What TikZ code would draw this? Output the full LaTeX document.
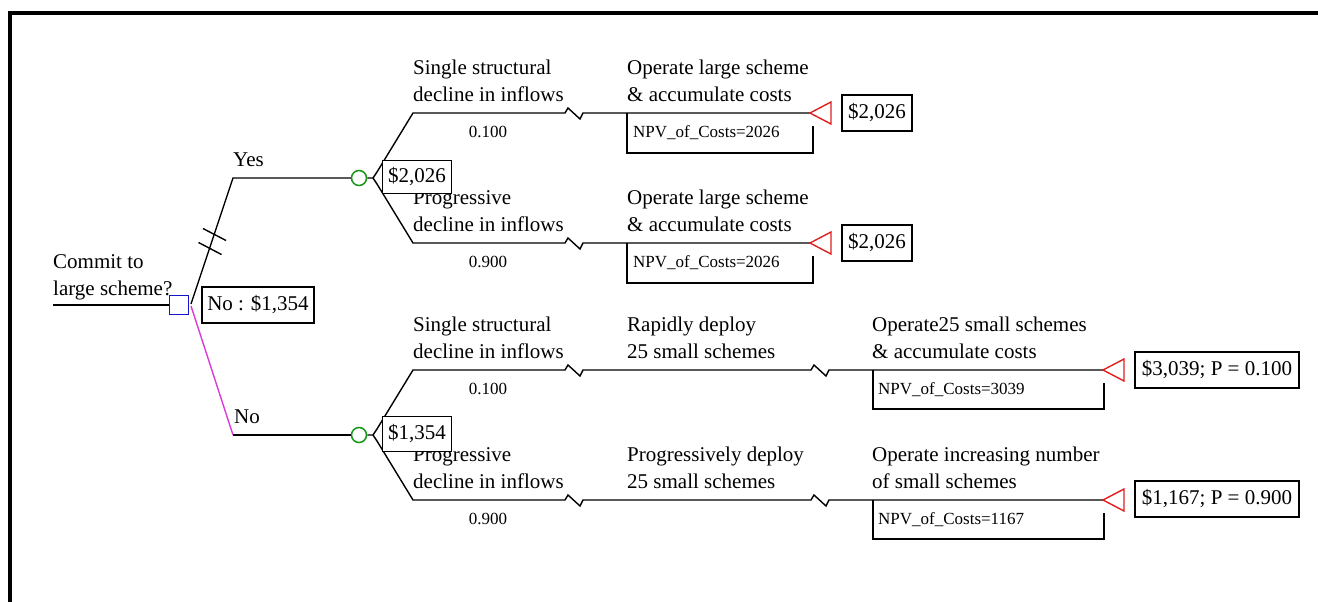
\documentclass[tikz,border=0pt]{standalone}
\usepackage{fontspec}
\setmainfont{Liberation Serif}
\usetikzlibrary{calc}
\definecolor{decblue}{RGB}{20,20,200}
\definecolor{chgreen}{RGB}{20,150,20}
\definecolor{termred}{RGB}{225,30,30}
\definecolor{nomag}{RGB}{215,60,215}
\begin{document}
\begin{tikzpicture}[x=1pt,y=-1pt,
  every node/.style={inner sep=0pt},
  br/.style={line width=1.4pt, line join=miter},
  big/.style={font=\fontsize{21}{27}\selectfont},
  sml/.style={font=\fontsize{17}{20}\selectfont},
  lbl/.style={big, anchor=base west, align=left},
  prob/.style={sml, anchor=base},
  npv/.style={sml, anchor=base west},
  valbox/.style={big, draw, line width=1.4pt, fill=white, minimum height=36pt, inner xsep=3pt},
  dec/.style={draw=decblue, line width=1.5pt, minimum size=19pt},
  chn/.style={circle, draw=chgreen, line width=1.5pt, minimum size=15pt},
  term/.style={draw=termred, line width=1.4pt, line join=miter},
]
\useasboundingbox (0,0) rectangle (1318,602);
\draw[line width=3.5pt] (10,604) -- (10,13) -- (1320,13);

% nodes
\node[dec] (d) at (179,305) {};
\node[chn] (cy) at (359,178) {};
\node[chn] (cn) at (359,435) {};

% coordinates
\coordinate (din) at (53,305);
\coordinate (dy) at (191,304);
\coordinate (dn) at (191,306);
\coordinate (ky) at (233,178);
\coordinate (kn) at (233,435);
\coordinate (fy) at (373,178);
\coordinate (fyu) at (377,172);
\coordinate (fyl) at (377,184);
\coordinate (fn) at (373,435);
\coordinate (fnu) at (377,429);
\coordinate (fnl) at (377,441);
\coordinate (u1) at (413,113);
\coordinate (u2) at (413,243);
\coordinate (u3) at (413,370);
\coordinate (u4) at (413,500);
\coordinate (za1) at (565,113);
\coordinate (za2) at (565,243);
\coordinate (za3) at (565,370);
\coordinate (za4) at (565,500);
\coordinate (zb3) at (811,370);
\coordinate (zb4) at (811,500);
\coordinate (t1) at (810,113);
\coordinate (t2) at (810,243);
\coordinate (t3) at (1103,370);
\coordinate (t4) at (1103,500);
\coordinate (n1) at (627,113);
\coordinate (n2) at (627,243);
\coordinate (n3) at (873,370);
\coordinate (n4) at (873,500);
\coordinate (h1) at (214.5,234.5);
\coordinate (h2) at (210,248.5);

% decision branches
\draw[br] (din) -- (d.west);
\draw[br] (dy) -- (ky) -- (cy.west);
\draw[br, draw=nomag] (dn) -- (kn);
\draw[br] (kn) -- (cn.west);
\draw[br] ($(h1)+(-11.5,-6)$) -- ($(h1)+(11.5,6)$);
\draw[br] ($(h2)+(-11.5,-6)$) -- ($(h2)+(11.5,6)$);

% chance branches (Yes)
\draw[br] (cy.east) -- (fy) -- (fyu) -- (u1) -- (za1) -- ++(3,-5) -- ++(12,11) -- ++(3,-6) -- (t1);
\draw[br] (fy) -- (fyl) -- (u2) -- (za2) -- ++(3,-5) -- ++(12,11) -- ++(3,-6) -- (t2);
% chance branches (No)
\draw[br] (cn.east) -- (fn) -- (fnu) -- (u3) -- (za3) -- ++(3,-5) -- ++(12,11) -- ++(3,-6) -- (zb3) -- ++(3,-5) -- ++(12,11) -- ++(3,-6) -- (t3);
\draw[br] (fn) -- (fnl) -- (u4) -- (za4) -- ++(3,-5) -- ++(12,11) -- ++(3,-6) -- (zb4) -- ++(3,-5) -- ++(12,11) -- ++(3,-6) -- (t4);

% terminal triangles
\foreach \t in {t1,t2,t3,t4}{
  \draw[term] (\t) -- ++(21,-11) -- ++(0,22) -- cycle;
}

% NPV brackets
\draw[br] (n1) -- ++(0,40) -- ++(186,0) -- ++(0,-27);
\draw[br] (n2) -- ++(0,40) -- ++(186,0) -- ++(0,-27);
\draw[br] (n3) -- ++(0,39) -- ++(231,0) -- ++(0,-26);
\draw[br] (n4) -- ++(0,39) -- ++(231,0) -- ++(0,-26);

% labels (anchor = baseline of last line)
\node[lbl] (lc) at (53,295) {Commit to\\large scheme?};
\node[lbl] (ly) at (233,166) {Yes};
\node[lbl] (ln) at (234,423) {No};

\node[lbl] (a1) at (413,102) {Single structural\\decline in inflows};
\node[lbl] (b1) at (627,102) {Operate large scheme\\\& accumulate costs};
\node[prob] (p1) at (488,137.5) {0.100};
\node[npv] (q1) at (633,137.5) {NPV\_of\_Costs=2026};

\node[lbl] (a2) at (413,231) {Progressive\\decline in inflows};
\node[lbl] (b2) at (627,231) {Operate large scheme\\\& accumulate costs};
\node[prob] (p2) at (488,267.5) {0.900};
\node[npv] (q2) at (633,267.5) {NPV\_of\_Costs=2026};

\node[lbl] (a3) at (413,358.5) {Single structural\\decline in inflows};
\node[lbl] (b3) at (627,358.5) {Rapidly deploy\\25 small schemes};
\node[lbl] (e3) at (872,358.5) {Operate25 small schemes\\\& accumulate costs};
\node[prob] (p3) at (488,394.5) {0.100};
\node[npv] (q3) at (878,394.5) {NPV\_of\_Costs=3039};

\node[lbl] (a4) at (413,488.5) {Progressive\\decline in inflows};
\node[lbl] (b4) at (627,488.5) {Progressively deploy\\25 small schemes};
\node[lbl] (e4) at (872,488.5) {Operate increasing number\\of small schemes};
\node[prob] (p4) at (488,524.5) {0.900};
\node[npv] (q4) at (878,524.5) {NPV\_of\_Costs=1167};

% value boxes
\node[valbox, minimum width=70pt] (v1) at (877,113) {\$2,026};
\node[valbox, minimum width=70pt] (v2) at (877,243) {\$2,026};
\node[valbox, minimum width=164pt] (v3) at (1217,370) {\$3,039; P = 0.100};
\node[valbox, minimum width=164pt] (v4) at (1217,499) {\$1,167; P = 0.900};
\node[valbox, minimum width=69pt, minimum height=33pt] (vy) at (417,177) {\$2,026};
\node[valbox, minimum width=69pt, minimum height=35pt] (vn) at (417,434) {\$1,354};
\node[valbox, minimum width=112pt] (vd) at (258,305) {No : \$1,354};
\end{tikzpicture}
\end{document}
